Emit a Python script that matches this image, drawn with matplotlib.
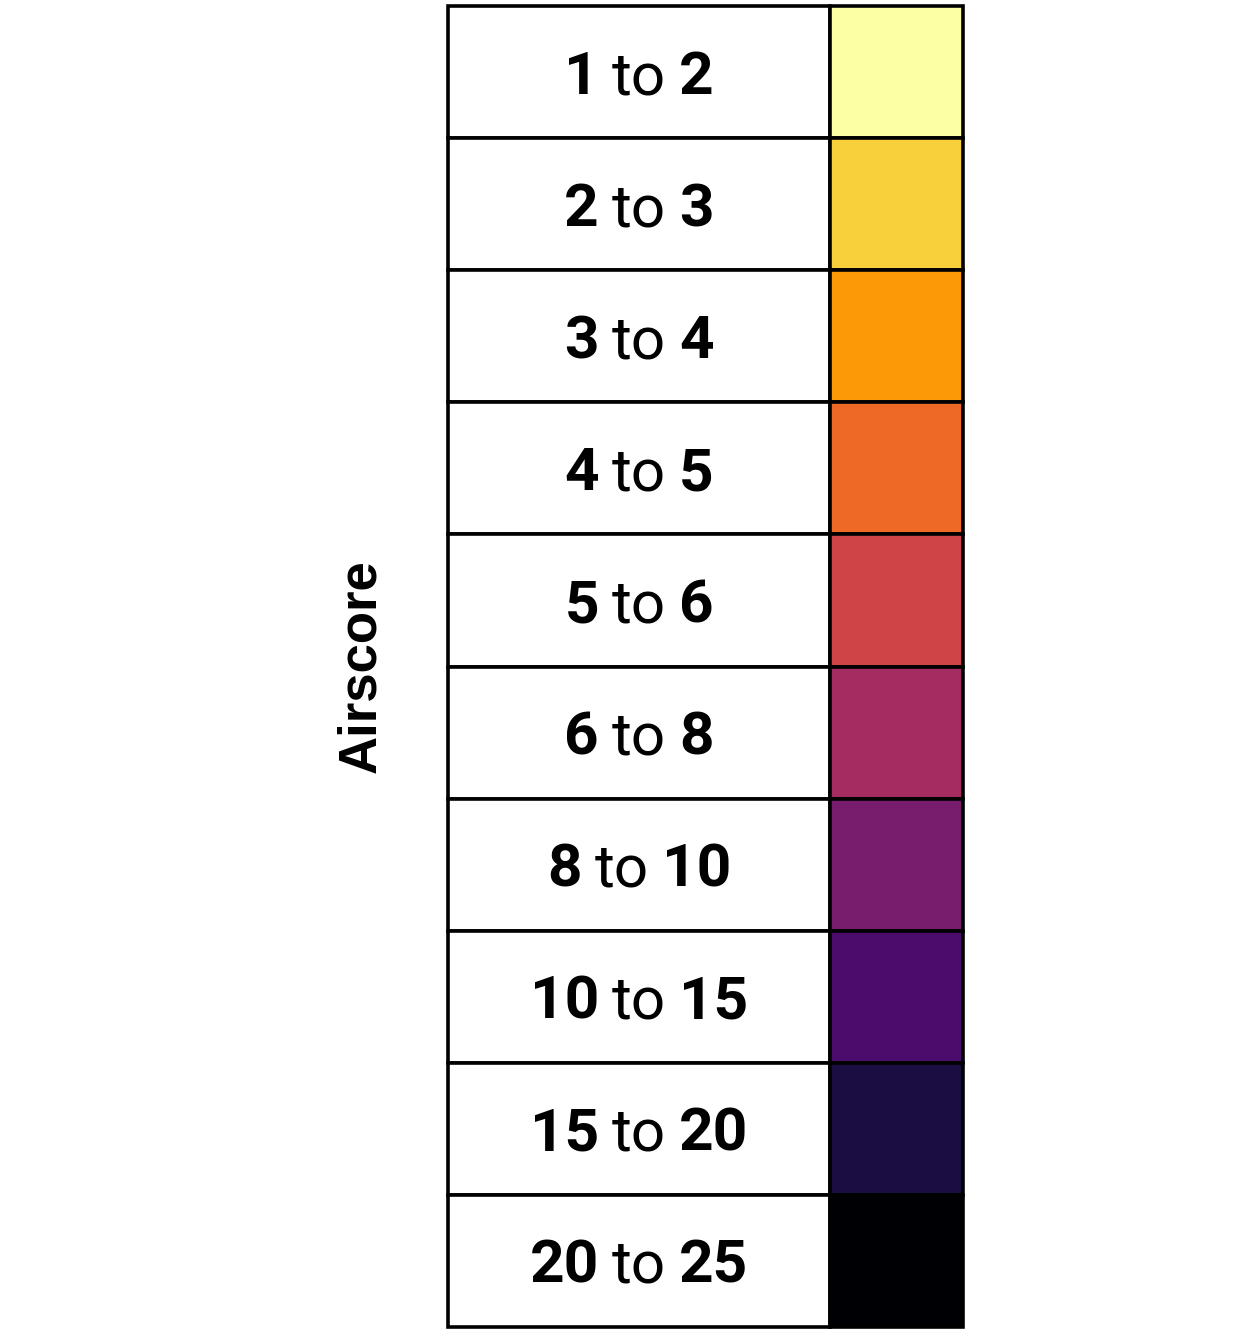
import matplotlib.pyplot as plt
from matplotlib.patches import Rectangle

# legend classes (airscore bins) and their inferno colours
bins_lo = [1, 2, 3, 4, 5, 6, 8, 10, 15, 20]
bins_hi = [2, 3, 4, 5, 6, 8, 10, 15, 20, 25]
colours = ['#FCFFA4', '#F7D03C', '#FB9A06', '#ED6925', '#CF4446',
           '#A52C60', '#781C6D', '#4B0C6B', '#1B0C42', '#000004']
title = 'Airscore'

W, H = 1246, 1338
fig = plt.figure(figsize=(W / 100, H / 100), dpi=100)
ax = fig.add_axes([0, 0, 1, 1])
ax.set_xlim(0, W)
ax.set_ylim(H, 0)
ax.axis('off')

# table geometry (pixels)
x0, x1, x2 = 448, 830, 963
y0, y1 = 6, 1327
n = len(bins_lo)
rh = (y1 - y0) / n
lw = 2.6

for i in range(n):
    top = y0 + i * rh
    ax.add_patch(Rectangle((x0, top), x1 - x0, rh, facecolor='white',
                           edgecolor='black', lw=lw))
    ax.add_patch(Rectangle((x1, top), x2 - x1, rh, facecolor=colours[i],
                           edgecolor='black', lw=lw))

# labels: bold numbers, regular "to", centred in the left column
r = fig.canvas.get_renderer()
gap = 13
fs = 43.5
for i in range(n):
    base = y0 + (i + 0.5) * rh + 22
    parts = [(str(bins_lo[i]), 'bold'), ('to', 'normal'), (str(bins_hi[i]), 'bold')]
    texts = [ax.text(0, base, s, fontsize=fs, family='Roboto', weight=w,
                     va='baseline', ha='left') for s, w in parts]
    widths = [t.get_window_extent(r).width for t in texts]
    total = sum(widths) + gap * 2
    x = (x0 + x1) / 2 - total / 2
    for t, w in zip(texts, widths):
        t.set_x(x)
        x += w + gap

ax.text(361, 666, title, rotation=90, fontsize=38,
        family='Liberation Sans', weight='bold', ha='center', va='center')

fig.savefig('out.png', dpi=100, facecolor='white')
